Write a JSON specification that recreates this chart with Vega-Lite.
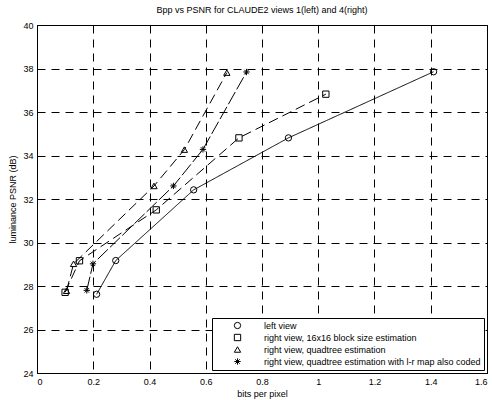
{
  "$schema": "https://vega.github.io/schema/vega-lite/v6.json",
  "autosize": "none",
  "width": 450,
  "height": 348,
  "padding": {"left": 37, "top": 25, "right": 5, "bottom": 27},
  "background": "white",
  "title": {
    "text": "Bpp vs PSNR for CLAUDE2 views 1(left) and 4(right)",
    "fontSize": 9,
    "fontWeight": "normal",
    "font": "Liberation Sans",
    "color": "black",
    "offset": 6,
    "anchor": "middle"
  },
  "data": {
    "values": [
      {"series": "left view", "bpp": 0.212, "psnr": 27.62},
      {"series": "left view", "bpp": 0.280, "psnr": 29.17},
      {"series": "left view", "bpp": 0.557, "psnr": 32.42},
      {"series": "left view", "bpp": 0.894, "psnr": 34.81},
      {"series": "left view", "bpp": 1.41, "psnr": 37.85},
      {"series": "right view, 16x16 block size estimation", "bpp": 0.100, "psnr": 27.71},
      {"series": "right view, 16x16 block size estimation", "bpp": 0.151, "psnr": 29.16},
      {"series": "right view, 16x16 block size estimation", "bpp": 0.424, "psnr": 31.50},
      {"series": "right view, 16x16 block size estimation", "bpp": 0.718, "psnr": 34.81},
      {"series": "right view, 16x16 block size estimation", "bpp": 1.027, "psnr": 36.82},
      {"series": "right view, quadtree estimation", "bpp": 0.105, "psnr": 27.78},
      {"series": "right view, quadtree estimation", "bpp": 0.130, "psnr": 29.02},
      {"series": "right view, quadtree estimation", "bpp": 0.416, "psnr": 32.60},
      {"series": "right view, quadtree estimation", "bpp": 0.524, "psnr": 34.27},
      {"series": "right view, quadtree estimation", "bpp": 0.675, "psnr": 37.81},
      {"series": "right view, quadtree estimation with l-r map also coded", "bpp": 0.177, "psnr": 27.80},
      {"series": "right view, quadtree estimation with l-r map also coded", "bpp": 0.199, "psnr": 29.02},
      {"series": "right view, quadtree estimation with l-r map also coded", "bpp": 0.485, "psnr": 32.60},
      {"series": "right view, quadtree estimation with l-r map also coded", "bpp": 0.590, "psnr": 34.28},
      {"series": "right view, quadtree estimation with l-r map also coded", "bpp": 0.745, "psnr": 37.84}
    ]
  },
  "encoding": {
    "x": {
      "field": "bpp", "type": "quantitative",
      "scale": {"domain": [0, 1.6], "nice": false, "zero": false},
      "axis": {
        "title": "bits per pixel",
        "values": [0, 0.2, 0.4, 0.6, 0.8, 1, 1.2, 1.4, 1.6],
        "format": "~g",
        "grid": true, "gridColor": "black", "gridDash": [8, 6], "gridWidth": 1, "gridOpacity": 1,
        "ticks": false, "domainColor": "black",
        "labelFontSize": 9, "labelColor": "black", "labelPadding": 4,
        "titleFontSize": 9, "titleFontWeight": "normal", "titleColor": "black", "titlePadding": 3
      }
    },
    "y": {
      "field": "psnr", "type": "quantitative",
      "scale": {"domain": [24, 40], "nice": false, "zero": false},
      "axis": {
        "title": "luminance PSNR (dB)",
        "values": [24, 26, 28, 30, 32, 34, 36, 38, 40],
        "grid": true, "gridColor": "black", "gridDash": [8, 6], "gridWidth": 1, "gridOpacity": 1,
        "ticks": false, "domainColor": "black",
        "labelFontSize": 9, "labelColor": "black", "labelPadding": 4,
        "titleFontSize": 9, "titleFontWeight": "normal", "titleColor": "black", "titlePadding": 5
      }
    }
  },
  "layer": [
    {
      "mark": {"type": "line", "color": "black", "strokeWidth": 1},
      "encoding": {
        "detail": {"field": "series"},
        "strokeDash": {
          "field": "series", "type": "nominal",
          "scale": {
            "domain": ["left view", "right view, 16x16 block size estimation", "right view, quadtree estimation", "right view, quadtree estimation with l-r map also coded"],
            "range": [[1, 0], [10, 5], [10, 5], [14, 3]]
          },
          "legend": null
        }
      }
    },
    {
      "mark": {"type": "point", "filled": false, "color": "black", "strokeWidth": 1, "size": 40, "opacity": 1},
      "encoding": {
        "shape": {
          "field": "series", "type": "nominal",
          "title": null,
          "scale": {
            "domain": ["left view", "right view, 16x16 block size estimation", "right view, quadtree estimation", "right view, quadtree estimation with l-r map also coded"],
            "range": ["circle", "square", "triangle-up", "M-1,0L1,0M0,-1L0,1M-0.7,-0.7L0.7,0.7M-0.7,0.7L0.7,-0.7"]
          }
        }
      }
    }
  ],
  "resolve": {"legend": {"shape": "independent", "strokeDash": "independent"}},
  "config": {
    "font": "Liberation Sans",
    "view": {"stroke": "black", "strokeWidth": 1},
    "legend": {
      "orient": "bottom-right",
      "offset": 3,
      "strokeColor": "black",
      "fillColor": "white",
      "padding": 3,
      "rowPadding": 1,
      "labelFontSize": 9,
      "labelColor": "black",
      "labelLimit": 400,
      "symbolSize": 40,
      "symbolStrokeColor": "black",
      "symbolStrokeWidth": 1,
      "symbolFillColor": "white",
      "symbolOffset": 18,
      "labelOffset": 22
    }
  }
}
